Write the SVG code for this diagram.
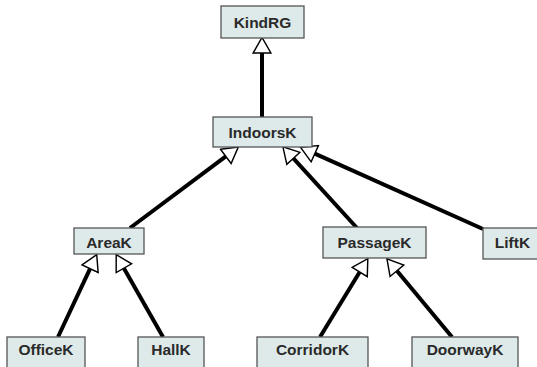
<svg xmlns="http://www.w3.org/2000/svg" width="537" height="367" viewBox="0 0 537 367">
<style>
.box{fill:#deeaea;stroke:#555;stroke-width:1.3}
.lbl{font-family:"Liberation Sans",Arial,sans-serif;font-weight:bold;font-size:15.5px;fill:#2a2a2a;text-anchor:middle}
.edge{stroke:#000;stroke-width:4;fill:none}
</style>
<defs>
<marker id="gen" markerUnits="userSpaceOnUse" markerWidth="20" markerHeight="20" refX="0" refY="8" orient="auto" viewBox="-1 -1 18 18">
<path d="M0,0 L14,8 L0,16 Z" fill="#fff" stroke="#000" stroke-width="1.3"/>
</marker>
</defs>
<rect width="537" height="367" fill="#fff"/>
<g id="connectors">
<line class="edge" x1="262" y1="117" x2="262" y2="53" marker-end="url(#gen)"/>
<line class="edge" x1="130" y1="228" x2="225.8" y2="156.4" marker-end="url(#gen)"/>
<line class="edge" x1="357" y1="228" x2="293.4" y2="158.3" marker-end="url(#gen)"/>
<line class="edge" x1="483" y1="229" x2="314.8" y2="153.7" marker-end="url(#gen)"/>
<line class="edge" x1="58" y1="337" x2="90.1" y2="268.7" marker-end="url(#gen)"/>
<line class="edge" x1="163" y1="337" x2="123.9" y2="268.2" marker-end="url(#gen)"/>
<line class="edge" x1="320" y1="337" x2="359.7" y2="272" marker-end="url(#gen)"/>
<line class="edge" x1="452" y1="337" x2="396.9" y2="270.8" marker-end="url(#gen)"/>
</g>
<g id="KindRG"><rect class="box" x="221" y="6" width="83" height="32"/><text class="lbl" x="262.5" y="28">KindRG</text></g>
<g id="IndoorsK"><rect class="box" x="213" y="117" width="99" height="30"/><text class="lbl" x="262.5" y="138">IndoorsK</text></g>
<g id="AreaK"><rect class="box" x="74" y="228" width="70" height="26"/><text class="lbl" x="109" y="248">AreaK</text></g>
<g id="PassageK"><rect class="box" x="323" y="227" width="103" height="31"/><text class="lbl" x="374.5" y="248">PassageK</text></g>
<g id="LiftK"><rect class="box" x="483" y="228" width="59" height="31"/><text class="lbl" x="512.5" y="248">LiftK</text></g>
<g id="OfficeK"><rect class="box" x="7" y="337" width="78" height="40"/><text class="lbl" x="46" y="355">OfficeK</text></g>
<g id="HallK"><rect class="box" x="138" y="337" width="66" height="40"/><text class="lbl" x="171" y="355">HallK</text></g>
<g id="CorridorK"><rect class="box" x="257" y="337" width="111" height="40"/><text class="lbl" x="312.5" y="355">CorridorK</text></g>
<g id="DoorwayK"><rect class="box" x="412" y="337" width="106" height="40"/><text class="lbl" x="465" y="355">DoorwayK</text></g>
</svg>
